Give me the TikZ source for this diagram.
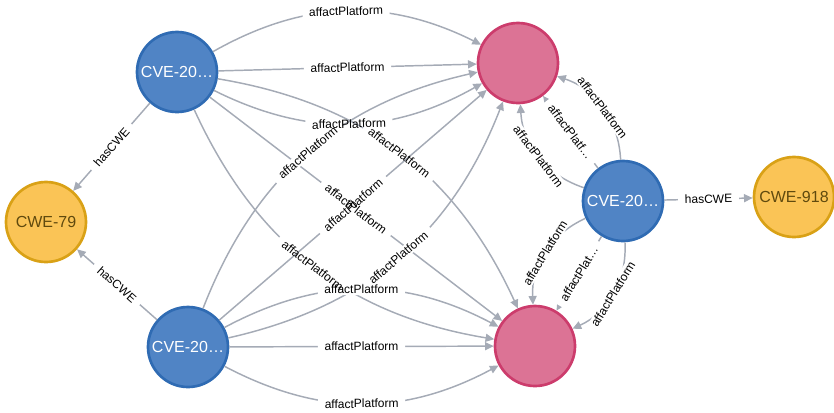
\documentclass[tikz,border=0pt]{standalone}
\usepackage{fontspec}
\setmainfont{Liberation Sans}
\usetikzlibrary{arrows.meta}
\definecolor{cvefill}{HTML}{5084C5}
\definecolor{cveline}{HTML}{2F6BB3}
\definecolor{pffill}{HTML}{DC7395}
\definecolor{pfline}{HTML}{CC3C6C}
\definecolor{cwefill}{HTML}{FAC456}
\definecolor{cweline}{HTML}{D9A116}
\definecolor{cwetext}{HTML}{604A0E}
\definecolor{relcol}{HTML}{A5ABB6}
\begin{document}
\begin{tikzpicture}[x=0.75pt,y=-0.75pt,
  ball/.style={draw, circle, line width=2pt, minimum size=60pt, inner sep=0pt,
    font=\fontsize{12}{14}\selectfont},
  cve/.style={ball, draw=cveline, fill=cvefill, text=white},
  pf/.style={ball, draw=pfline, fill=pffill},
  cwe/.style={ball, draw=cweline, fill=cwefill, text=cwetext},
  rel/.style={draw=relcol, line width=1.1pt, -{Triangle[length=6.5pt,width=6pt]}},
  gap/.style={sloped, fill=white, inner xsep=5pt, inner ysep=1pt,
    font=\fontsize{9}{11}\selectfont},
  lbl/.style={sloped, inner xsep=5pt, inner ysep=1pt, font=\fontsize{9}{11}\selectfont}]
\useasboundingbox (0,0) rectangle (834,412);

\node[cve] (a) at (177,72) {CVE-20…};
\node[cve] (b) at (188,347) {CVE-20…};
\node[cve] (c) at (623,201) {CVE-20…};
\node[pf] (p1) at (518,63) {};
\node[pf] (p2) at (535,346) {};
\node[cwe] (w79) at (46,222) {CWE-79};
\node[cwe] (w918) at (794,197) {CWE-918};

\def\rels{a/p1/28/affactPlatform, a/p1/0/affactPlatform, a/p1/-28/affactPlatform,
  a/p2/28/affactPlatform, a/p2/0/affactPlatform, a/p2/-28/affactPlatform,
  b/p1/28/affactPlatform, b/p1/0/affactPlatform, b/p1/-28/affactPlatform,
  b/p2/28/affactPlatform, b/p2/0/affactPlatform, b/p2/-28/affactPlatform,
  c/p1/34/affactPlatform, c/p1/0/affactPlatf…, c/p1/-34/affactPlatform,
  c/p2/34/affactPlatform, c/p2/0/affactPlat…, c/p2/-34/affactPlatform,
  a/w79/0/hasCWE, b/w79/0/hasCWE, c/w918/0/hasCWE}

% edges, broken where the label sits
\foreach \s/\t/\b/\l in \rels
  \path[rel] (\s) to[bend left=\b] node[gap] {\phantom{\l}} (\t);
% label texts on top
\foreach \s/\t/\b/\l in \rels
  \path (\s) to[bend left=\b] node[lbl] {\l} (\t);
\end{tikzpicture}
\end{document}
